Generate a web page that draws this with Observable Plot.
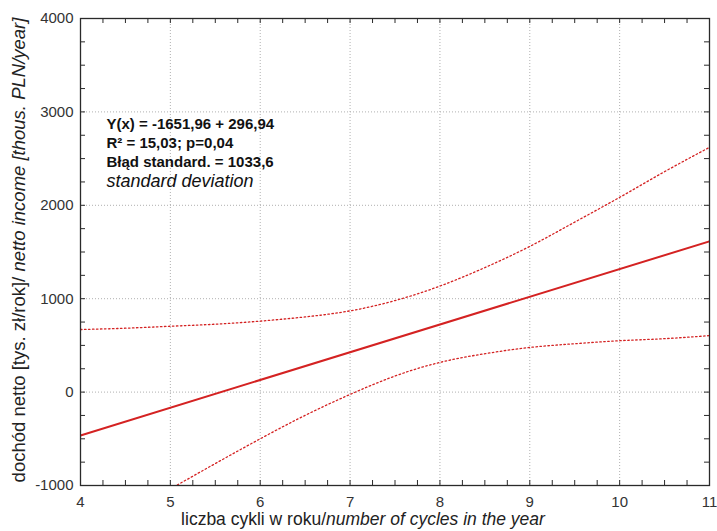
<!DOCTYPE html>
<html><head><meta charset="utf-8">
<script src="https://cdn.jsdelivr.net/npm/d3@7"></script>
<script src="https://cdn.jsdelivr.net/npm/@observablehq/plot@0.6"></script>
<style>body{margin:0;background:#fff} #chart{width:717px;height:531px}</style>
</head><body><div id="chart"></div>
<script>
// Axis ticks
const xTicks = [4, 5, 6, 7, 8, 9, 10, 11];
const yTicks = [-1000, 0, 1000, 2000, 3000, 4000];

// Regression line Y(x) = -1651,96 + 296,94 x (end points)
const fitX = [4, 11];
const fitY = [-464, 1614];

// Upper confidence band (dotted)
const upperX = [4, 4.5, 5, 5.5, 6, 6.5, 7, 7.5, 8, 8.5, 9, 9.5, 10, 10.5, 11];
const upperY = [670, 684, 705, 727, 760, 805, 870, 980, 1135, 1333, 1560, 1820, 2085, 2360, 2620];

// Lower confidence band (dotted)
const lowerX = [5, 5.5, 6, 6.5, 7, 7.5, 8, 8.5, 9, 9.5, 10, 10.5, 11];
const lowerY = [-1037, -765, -500, -249, -25, 172, 318, 411, 478, 518, 550, 572, 605];

// Annotation text
const statLines = ["Y(x) = -1651,96 + 296,94", "R\u00B2 = 15,03; p=0,04", "B\u0142\u0105d standard. = 1033,6"];
const statNote = "standard deviation";

const fit = fitX.map((x, i) => ({x, y: fitY[i]}));
const upper = upperX.map((x, i) => ({x, y: upperY[i]}));
const lower = lowerX.map((x, i) => ({x, y: lowerY[i]}));
const xMinor = d3.range(4, 11.001, 0.25);
const yMinor = d3.range(-1000, 4000.1, 250);

const W = 717, H = 531;
const mL = 80, mR = 8, mT = 18, mB = 46;
const fw = W - mL - mR, fh = H - mT - mB;
const tk = 5;
const red = "#d42222";
const axisCol = "#2a2a2a";

const chart = Plot.plot({
  width: W, height: H,
  marginLeft: mL, marginRight: mR, marginTop: mT, marginBottom: mB,
  style: {fontFamily: "'Liberation Sans', Arial, sans-serif", fontSize: "15px", color: "#333", background: "#fff"},
  x: {domain: [4, 11]},
  y: {domain: [-1000, 4000]},
  marks: [
    Plot.gridX(xTicks, {stroke: "#b0b0b0", strokeOpacity: 1, strokeDasharray: "1,2"}),
    Plot.gridY(yTicks, {stroke: "#b0b0b0", strokeOpacity: 1, strokeDasharray: "1,2"}),
    Plot.line(upper, {x: "x", y: "y", curve: "natural", stroke: red, strokeWidth: 1.3, strokeDasharray: "1.5,2.5", clip: true}),
    Plot.line(lower, {x: "x", y: "y", curve: "natural", stroke: red, strokeWidth: 1.3, strokeDasharray: "1.5,2.5", clip: true}),
    Plot.line(fit, {x: "x", y: "y", stroke: red, strokeWidth: 2, clip: true}),
    // inward ticks on all four sides
    Plot.tickX(xMinor, {x: d => d, insetTop: fh - tk, stroke: axisCol}),
    Plot.tickX(xMinor, {x: d => d, insetBottom: fh - tk, stroke: axisCol}),
    Plot.tickY(yMinor, {y: d => d, insetRight: fw - tk, stroke: axisCol}),
    Plot.tickY(yMinor, {y: d => d, insetLeft: fw - tk, stroke: axisCol}),
    Plot.frame({stroke: axisCol, strokeWidth: 1.3}),
    Plot.axisX(xTicks, {tickSize: 0, tickPadding: 11, label: null, fontSize: 15, tickFormat: d => String(d)}),
    Plot.axisY(yTicks, {tickSize: 0, tickPadding: 7, label: null, fontSize: 15, tickFormat: d => String(d)}),
    ...statLines.map((s, i) => Plot.text([s], {frameAnchor: "top-left", dx: 26, dy: 110 + 19 * i,
      textAnchor: "start", lineAnchor: "bottom", fontSize: 15, fontWeight: "bold", fill: "#111"})),
    Plot.text([statNote], {frameAnchor: "top-left", dx: 26, dy: 168, textAnchor: "start", lineAnchor: "bottom",
      fontSize: 18, fontStyle: "italic", fill: "#111"})
  ]
});
document.getElementById("chart").appendChild(chart);

const svg = d3.select(chart);
const xl = svg.append("text")
  .attr("x", 363).attr("y", 525).attr("text-anchor", "middle")
  .attr("font-size", 17.5).attr("fill", "#222");
xl.append("tspan").text("liczba cykli w roku/");
xl.append("tspan").attr("font-style", "italic").text("number of cycles in the year");

const yl = svg.append("text")
  .attr("transform", "translate(25,250) rotate(-90)").attr("text-anchor", "middle")
  .attr("font-size", 18.5).attr("fill", "#222");
yl.append("tspan").text("doch\u00F3d netto [tys. z\u0142/rok]/ ");
yl.append("tspan").attr("font-style", "italic").text("netto income [thous. PLN/year]");
</script>
</body></html>
